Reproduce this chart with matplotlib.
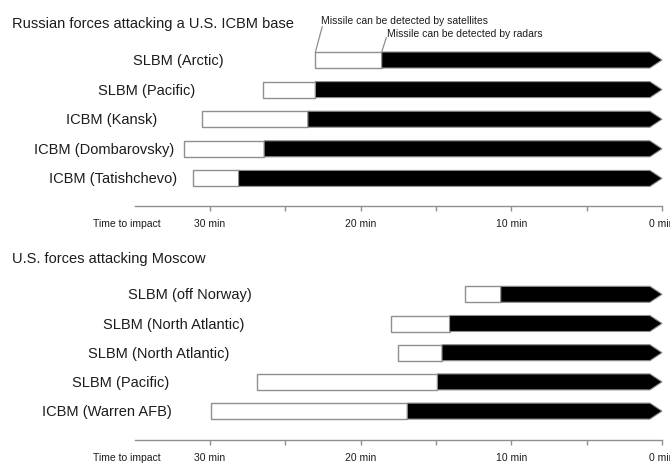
import matplotlib
matplotlib.use("Agg")
import matplotlib.pyplot as plt
from matplotlib.patches import Polygon

plt.rcParams['font.family'] = ['Liberation Sans', 'DejaVu Sans']

# ---- data (minutes before impact) ----
ru_title = "Russian forces attacking a U.S. ICBM base"
ru_labels = ["SLBM (Arctic)", "SLBM (Pacific)", "ICBM (Kansk)",
             "ICBM (Dombarovsky)", "ICBM (Tatishchevo)"]
ru_satellite = [23.0, 26.5, 30.5, 31.7, 31.1]   # detection by satellites starts
ru_radar = [18.6, 23.0, 23.5, 26.4, 28.1]       # detection by radars starts

us_title = "U.S. forces attacking Moscow"
us_labels = ["SLBM (off Norway)", "SLBM (North Atlantic)", "SLBM (North Atlantic)",
             "SLBM (Pacific)", "ICBM (Warren AFB)"]
us_satellite = [13.1, 18.0, 17.5, 26.9, 29.9]
us_radar = [10.7, 14.1, 14.6, 14.9, 16.9]

tick_vals = [30, 25, 20, 15, 10, 5, 0]
tick_labels = ["30 min", "", "20 min", "", "10 min", "", "0 min"]
axis_label = "Time to impact"
sat_note = "Missile can be detected by satellites"
radar_note = "Missile can be detected by radars"

# ---- layout (positions, not data) ----
W, H = 670, 464
ru_label_x = [29.1, 31.0, 33.5, 32.4, 32.2]
us_label_x = [27.2, 27.7, 28.7, 32.7, 32.5]
XL = (43.93, -0.53)
GRAY = '#8f8f8f'
TXT = '#1c1c1c'

fig = plt.figure(figsize=(W / 100, H / 100), dpi=100)
fig.patch.set_facecolor('white')


def panel(bottom_px, top_px, row0_px, spacing, labels, sat, rad, label_x):
    ax = fig.add_axes([0, 1 - bottom_px / H, 1, (bottom_px - top_px) / H])
    ax.set_xlim(*XL)
    n = len(labels)
    ymax = (n - 1) + (bottom_px - (row0_px + (n - 1) * spacing)) / spacing
    ymin = -(row0_px - top_px) / spacing
    ax.set_ylim(ymax, ymin)
    h = 16 / spacing
    head = 0.8
    for i in range(n):
        ax.barh(i, sat[i] - rad[i], left=rad[i], height=h, color='white',
                edgecolor=GRAY, linewidth=1.0, zorder=2)
        poly = Polygon([(rad[i], i - h / 2), (head, i - h / 2), (0, i),
                        (head, i + h / 2), (rad[i], i + h / 2)],
                       closed=True, facecolor='black', edgecolor=GRAY,
                       linewidth=0.8, zorder=3)
        ax.add_patch(poly)
        ax.text(label_x[i], i, labels[i], ha='right', va='center',
                fontsize=10.5, color=TXT)
    for s in ['top', 'right', 'left']:
        ax.spines[s].set_visible(False)
    ax.spines['bottom'].set_bounds(35, 0)
    ax.spines['bottom'].set_color(GRAY)
    ax.spines['bottom'].set_linewidth(1.0)
    ax.set_yticks([])
    ax.set_xticks(tick_vals)
    ax.set_xticklabels(tick_labels)
    ax.tick_params(axis='x', which='major', direction='out', length=3.6,
                   width=1.0, color=GRAY, labelsize=7.5, labelcolor=TXT, pad=5)
    ax.set_xticks([35.5], minor=True)
    ax.set_xticklabels([axis_label], minor=True)
    ax.tick_params(axis='x', which='minor', length=0, labelsize=7.5,
                   labelcolor=TXT, pad=8.6)
    ax.patch.set_visible(False)
    return ax, h


ax1, h1 = panel(207, 0, 61, 29.6, ru_labels, ru_satellite, ru_radar, ru_label_x)
ax2, h2 = panel(441, 232, 295.3, 29.2, us_labels, us_satellite, us_radar, us_label_x)

# annotations on the first row of the top panel
ax1.plot([ru_satellite[0], 22.55], [-h1 / 2, -1.12], color=GRAY, lw=0.9,
         zorder=1, clip_on=False)
ax1.text(22.6, -1.36, sat_note, ha='left', va='center', fontsize=7.5,
         color=TXT)
ax1.plot([ru_radar[0], 18.3], [-h1 / 2, -0.75], color=GRAY, lw=0.9,
         zorder=1, clip_on=False)
ax1.text(18.25, -0.9, radar_note, ha='left', va='center', fontsize=7.5,
         color=TXT)

fig.text(12 / W, 1 - 24 / H, ru_title, ha='left', va='center',
         fontsize=10.5, color=TXT)
fig.text(12 / W, 1 - 259 / H, us_title, ha='left', va='center',
         fontsize=10.5, color=TXT)

fig.savefig('out.png', dpi=100, facecolor='white')
